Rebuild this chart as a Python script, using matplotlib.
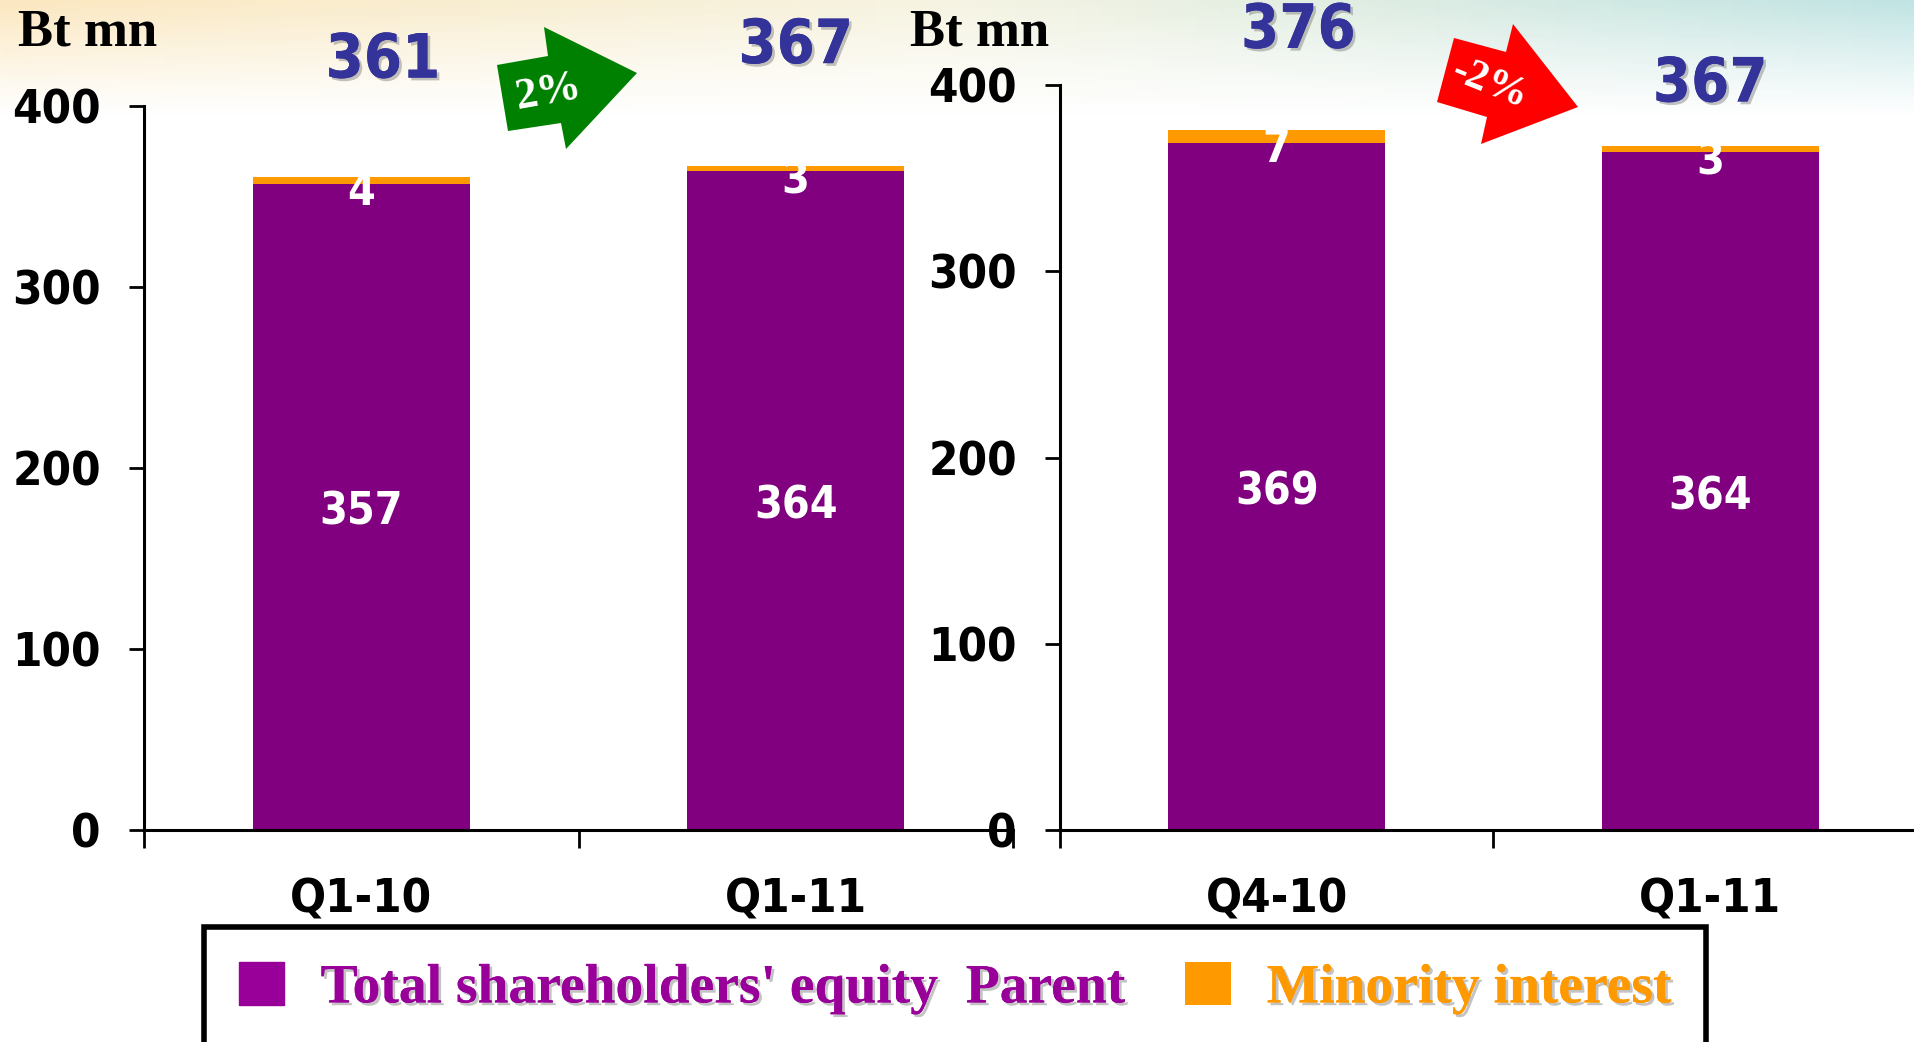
import numpy as np
import matplotlib
matplotlib.use("Agg")
import matplotlib.pyplot as plt
import matplotlib.patheffects as pe
from matplotlib.patches import Polygon

# data
left_cats = ["Q1-10", "Q1-11"]
left_parent = [357, 364]
left_minority = [4, 3]
left_total = [361, 367]

right_cats = ["Q4-10", "Q1-11"]
right_parent = [369, 364]
right_minority = [7, 3]
right_total = [376, 367]

changes = ["2%", "-2%"]
series_names = ["Total shareholders' equity  Parent", "Minority interest"]

PURPLE = "#800080"
ORANGE = "#FF9900"
TOTAL_BLUE = "#333399"
W, H = 1915, 1042

SANS = dict(family="DejaVu Sans", fontstretch="condensed", fontweight="bold")
SERIF = dict(family="Liberation Serif", fontweight="bold")

fig = plt.figure(figsize=(W / 100, H / 100), dpi=100)
fig.patch.set_facecolor("white")

# soft tinted band at the top of the slide
bg = fig.add_axes([0, 0, 1, 1], zorder=-5)
bg.set_axis_off()
xs = np.linspace(0, 1, 400)
ys = np.linspace(0, 1, 300)
warm = np.array([252, 232, 192]) / 255
mid = np.array([246, 244, 226]) / 255
cool = np.array([192, 228, 228]) / 255
cols = np.where(xs[:, None] < 0.5,
                warm + (mid - warm) * (xs[:, None] / 0.5),
                mid + (cool - mid) * ((xs[:, None] - 0.5) / 0.5))
img = np.zeros((len(ys), len(xs), 4))
img[:, :, :3] = cols[None, :, :]
fade = np.clip(1 - ys / 0.11, 0, 1) ** 1.1
img[:, :, 3] = fade[:, None]
bg.imshow(img, extent=[0, 1, 0, 1], aspect="auto", origin="upper")
bg.set_xlim(0, 1)
bg.set_ylim(0, 1)

shadow = [pe.withSimplePatchShadow(offset=(2, -2), shadow_rgbFace="#888888", alpha=0.5), pe.Normal()]


def panel(rect, cats, parent, minority, total):
    ax = fig.add_axes(rect)
    x = np.arange(len(cats))
    b1 = ax.bar(x, parent, width=0.5, color=PURPLE, zorder=2)
    b2 = ax.bar(x, minority, bottom=parent, width=0.5, color=ORANGE, zorder=2)
    ax.set_xlim(-0.5, len(cats) - 0.5)
    ax.set_ylim(0, 400)
    ax.set_yticks([0, 100, 200, 300, 400])
    ax.set_xticks(x)
    ax.set_xticklabels(cats)
    ax.set_xticks(np.arange(-0.5, len(cats), 1.0), minor=True)
    for s in ["top", "right"]:
        ax.spines[s].set_visible(False)
    for s in ["left", "bottom"]:
        ax.spines[s].set_linewidth(2.2)
    ax.tick_params(axis="y", direction="out", length=11, width=2, pad=20)
    ax.tick_params(axis="x", which="major", length=0, pad=34)
    ax.tick_params(axis="x", which="minor", direction="out", length=13, width=2)
    for lab in ax.get_yticklabels() + ax.get_xticklabels():
        lab.set(fontsize=34, **SANS)
    ax.patch.set_alpha(0)
    for xi, p, m, t in zip(x, parent, minority, total):
        ax.text(xi, p / 2 - 3, str(p), ha="center", va="center", color="white", fontsize=32, zorder=3, **SANS)
        ax.text(xi, p + m / 2 - 7, str(m), ha="center", va="center", color="white", fontsize=32, zorder=3, **SANS)
    return ax, b1, b2


axL, p1, m1 = panel([144 / W, 212 / H, 869 / W, 724 / H], left_cats, left_parent, left_minority, left_total)
axR, p2, m2 = panel([1060 / W, 212 / H, 867 / W, 745 / H], right_cats, right_parent, right_minority, right_total)

# totals above the stacks
for ax, totals, ys_ in [(axL, left_total, [1.062, 1.082]), (axR, right_total, [1.072, 1.0])]:
    tr = ax.get_xaxis_transform()
    for i, (t, yy) in enumerate(zip(totals, ys_)):
        ax.text(i + 0.05 * (1 - i), yy, str(t), transform=tr, ha="center", va="center",
                fontsize=44, color=TOTAL_BLUE, clip_on=False, path_effects=shadow, **SANS)

fig.text(18 / W, 1 - 33 / H, "Bt mn", ha="left", va="center", fontsize=38, **SERIF)
fig.text(910 / W, 1 - 32 / H, "Bt mn", ha="left", va="center", fontsize=38, **SERIF)

# change arrows
def px(pts):
    return [(a / W, 1 - b / H) for a, b in pts]

green = [(497, 65), (548, 56), (544, 27), (637, 73), (566, 149), (561, 123), (508, 131)]
red = [(1454, 38), (1506, 52), (1513, 24), (1578, 107), (1481, 144), (1487, 117), (1437, 102)]
fig.add_artist(Polygon(px(green), closed=True, facecolor="#008000", edgecolor="none", transform=fig.transFigure))
fig.add_artist(Polygon(px(red), closed=True, facecolor="#FF0000", edgecolor="none", transform=fig.transFigure))
fig.text(548 / W, 1 - 92 / H, changes[0], ha="center", va="center", rotation=10, color="white", fontsize=32, **SERIF)
fig.text(1490 / W, 1 - 84 / H, changes[1], ha="center", va="center", rotation=-22, color="white", fontsize=31, **SERIF)

leg = fig.legend([p1, m1], series_names, loc="center", bbox_to_anchor=(955 / W, 1 - 988 / H),
                 ncol=2, frameon=True, fancybox=False, edgecolor="black", framealpha=1,
                 prop=dict(family="Liberation Serif", weight="bold", size=40),
                 labelcolor=["#990099", ORANGE], handlelength=0.82, handleheight=0.82,
                 handletextpad=0.65, columnspacing=1.1, borderpad=0.62, borderaxespad=0)
leg.get_frame().set_linewidth(4)
leg.legend_handles[0].set_color("#990099")
for t in leg.get_texts():
    t.set_path_effects(shadow)

fig.savefig("out.png", dpi=100)
